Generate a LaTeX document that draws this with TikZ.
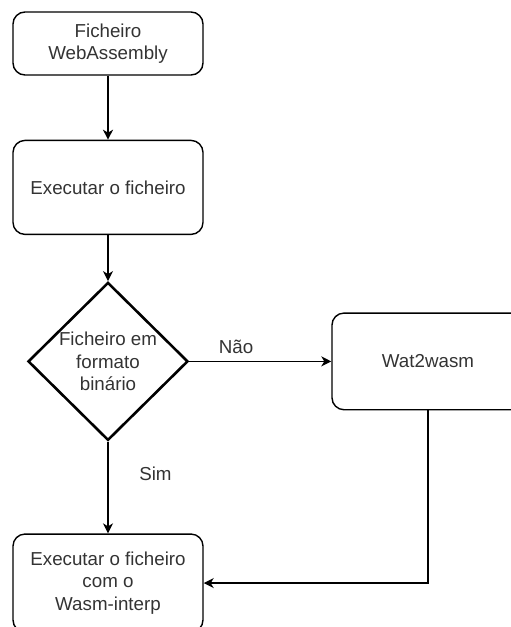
\documentclass[tikz,border=0pt]{standalone}
\usepackage{fontspec}
\setmainfont{Liberation Sans}
\usetikzlibrary{shapes.geometric}
\usetikzlibrary{arrows.meta}
\usetikzlibrary{positioning}

\begin{document}
\begin{tikzpicture}[>={Stealth[length=3mm,width=3mm,inset=0.9mm]},line width=1.2pt,auto]
        \tikzstyle{every node}=[font=\fontsize{16}{19}\selectfont, text=black!80, align=center]
        \tikzstyle{caixa}=[draw, rounded corners=0.36cm, line width=1.2pt, minimum width=5.7cm]
        \tikzstyle{decisao}=[draw, diamond, line width=2.2pt, minimum width=4.8cm, minimum height=4.74cm, inner sep=0pt]
        \useasboundingbox (0,0) rectangle (15.33,-18.81);
        \clip (0,0) rectangle (15.33,-18.81);
        \node[caixa, minimum height=1.89cm] (ficheiro) at (3.24,-1.305) {Ficheiro\\WebAssembly};
        \node[caixa, minimum height=2.82cm, below=1.92cm of ficheiro] (executar) {Executar o ficheiro};
        \node[decisao, below=1.38cm of executar] (binario) {Ficheiro em\\formato\\binário};
        \node[caixa, minimum width=5.76cm, minimum height=2.9cm, right=4.26cm of binario] (wat) {Wat2wasm};
        \node[caixa, minimum height=2.94cm, below=2.75cm of binario] (interp) {Executar o ficheiro\\com o\\Wasm-interp};
        \path [->,draw] (ficheiro) -- (executar);
        \path [->,draw] (executar) -- (binario);
        \path [->,draw] (binario) -- node[pos=0.33, above=0.1cm] {Não} (wat);
        \path [->,draw] (binario) -- node[pos=0.35, right=0.8cm] {Sim} (interp);
        \path [->,draw] (wat) |- (interp);
      \end{tikzpicture}
\end{document}
